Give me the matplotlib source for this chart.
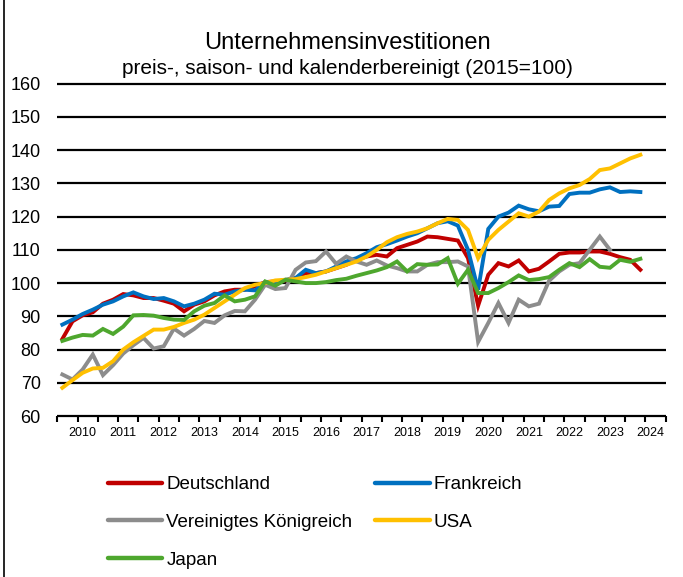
#!/usr/bin/env python3
"""
Unternehmensinvestitionen, quarterly index (2015=100), five economies.
"""

import matplotlib

matplotlib.use("Agg")
import matplotlib.pyplot as plt
from matplotlib.lines import Line2D

plt.rcParams["font.family"] = ["Liberation Sans", "DejaVu Sans"]

TITLE = "Unternehmensinvestitionen"
SUBTITLE = "preis-, saison- und kalenderbereinigt (2015=100)"

# quarters on the category axis; labels sit on the first quarter of each year
N_CATEGORIES = 60
YEAR_LABELS = [str(y) for y in range(2010, 2025)]
YEAR_LABEL_POS = [2 + 4 * k for k in range(len(YEAR_LABELS))]

deutschland = [
    83.2, 88.5, 90.3, 91.2, 93.8, 95.0, 96.7, 96.3, 95.5, 95.5,
    94.7, 93.8, 91.5, 93.5, 94.5, 96.3, 97.5, 98.0, 98.0, 99.0,
    100.3, 100.5, 100.8, 101.5, 103.0, 103.0, 103.5, 104.5, 105.5, 107.0,
    108.0, 108.5, 108.0, 110.5, 111.5, 112.5, 114.0, 113.8, 113.3, 112.8,
    107.5, 93.2, 102.5, 106.0, 105.0, 106.8, 103.5, 104.3, 106.5, 108.8,
    109.2, 109.2, 109.5, 109.5, 108.8, 107.8, 107.0, 104.0,
]
frankreich = [
    87.5, 89.0, 90.7, 92.0, 93.5, 94.5, 96.0, 97.2, 96.0, 95.2,
    95.5, 94.5, 93.0, 93.8, 95.0, 96.8, 96.5, 97.5, 98.0, 97.8,
    100.3, 100.3, 101.0, 101.5, 104.0, 103.0, 103.5, 105.0, 106.5, 107.5,
    109.0, 110.8, 111.7, 112.8, 114.0, 115.0, 116.5, 118.0, 118.6, 117.3,
    110.0, 98.0, 116.3, 120.0, 121.2, 123.3, 122.2, 121.6, 123.0, 123.2,
    126.8, 127.2, 127.2, 128.2, 128.8, 127.4, 127.6, 127.4,
]
vereinigtes_koenigreich = [
    72.5, 71.0, 74.0, 78.5, 72.3, 75.3, 78.8, 81.3, 83.5, 80.3,
    81.0, 86.3, 84.2, 86.2, 88.6, 88.0, 90.3, 91.6, 91.5, 95.0,
    99.5, 98.2, 98.5, 104.0, 106.2, 106.6, 109.5, 105.8, 108.0, 106.5,
    105.5, 106.8, 105.3, 104.5, 103.5, 103.5, 105.5, 106.3, 106.3, 106.5,
    105.0, 82.3, 88.0, 94.0, 88.0, 95.0, 93.0, 93.8, 100.7, 103.5,
    105.5, 106.0, 110.0, 114.0, 110.0,
]
usa = [
    68.5, 70.8, 73.0, 74.3, 74.5, 76.5, 80.0, 82.2, 84.1, 86.0,
    86.0, 86.8, 88.0, 89.0, 90.5, 92.5, 94.5, 96.5, 98.5, 99.5,
    100.0, 100.8, 101.0, 101.2, 101.8, 102.5, 103.5, 104.5, 105.5, 106.5,
    108.0, 110.0, 112.3, 113.8, 114.8, 115.5, 116.5, 118.0, 119.3, 119.0,
    116.0, 107.5, 113.0, 116.0, 118.5, 121.0, 120.0, 121.5, 125.0, 127.0,
    128.5, 129.5, 131.3, 134.0, 134.5, 136.0, 137.5, 138.6,
]
japan = [
    82.6, 83.6, 84.4, 84.2, 86.2, 84.7, 86.9, 90.3, 90.4, 90.2,
    89.5, 89.0, 88.9, 91.5, 93.2, 94.0, 96.3, 94.5, 95.0, 96.0,
    100.5, 99.2, 101.0, 100.5, 100.0, 100.0, 100.3, 100.9, 101.3, 102.2,
    103.0, 103.8, 104.8, 106.5, 103.5, 105.7, 105.5, 105.6, 107.5, 99.8,
    104.0, 97.0, 97.0, 98.5, 100.3, 102.3, 100.9, 101.2, 101.8, 104.0,
    106.0, 104.8, 107.2, 104.9, 104.6, 107.0, 106.4, 107.3,
]

SERIES = [
    ("Deutschland", deutschland, "#C00000"),
    ("Frankreich", frankreich, "#0070C0"),
    ("Vereinigtes Königreich", vereinigtes_koenigreich, "#8C8C8C"),
    ("USA", usa, "#FFC000"),
    ("Japan", japan, "#4EA72E"),
]

LW = 2.8
FS = 13


def main() -> None:
    fig = plt.figure(figsize=(6.83, 5.77), dpi=100)
    ax = fig.add_axes([0.0839, 0.279, 0.8908, 0.576])

    y_ticks = list(range(60, 161, 10))
    ax.hlines(y_ticks, -0.5, N_CATEGORIES - 0.5, color="black",
              linewidth=1.6, clip_on=False, zorder=1)

    handles = {}
    for name, values, color in SERIES:
        ax.plot(range(len(values)), values, color=color, linewidth=LW,
                solid_joinstyle="miter", zorder=3)
        handles[name] = Line2D([0], [0], color=color, linewidth=LW + 0.4,
                               solid_capstyle="round", label=name)

    ax.set_xlim(-0.5, N_CATEGORIES - 0.5)
    ax.set_ylim(60, 160)
    for s in ax.spines.values():
        s.set_visible(False)

    ax.set_yticks(y_ticks)
    ax.tick_params(axis="y", length=0, pad=12, labelsize=FS)

    ax.set_xticks([-0.5 + 2 * k for k in range(N_CATEGORIES // 2 + 1)])
    ax.set_xticklabels([])
    ax.tick_params(axis="x", which="major", length=4, width=1.5,
                   direction="out", color="black")
    ax.set_xticks(YEAR_LABEL_POS, minor=True)
    ax.set_xticklabels(YEAR_LABELS, minor=True)
    ax.tick_params(axis="x", which="minor", length=0, pad=8, labelsize=9)

    fig.text(0.509, 1 - 43 / 577, TITLE, ha="center", va="center", fontsize=17)
    fig.text(0.509, 1 - 68 / 577, SUBTITLE, ha="center", va="center", fontsize=15)

    order = ["Deutschland", "Vereinigtes Königreich", "Japan", "Frankreich", "USA"]
    fig.legend(
        handles=[handles[n] for n in order],
        loc="upper left",
        bbox_to_anchor=(108 / 683, 1 - 476 / 577),
        ncol=2,
        frameon=False,
        fontsize=13.5,
        handlelength=2.9,
        handletextpad=0.22,
        columnspacing=1.2,
        labelspacing=1.1,
        borderpad=0,
        borderaxespad=0,
    )

    fig.add_artist(Line2D([3.5 / 683, 3.5 / 683], [0, 1], color="black",
                          linewidth=1.2, transform=fig.transFigure))

    fig.savefig("out.png", dpi=100)
    plt.close(fig)


if __name__ == "__main__":
    main()
